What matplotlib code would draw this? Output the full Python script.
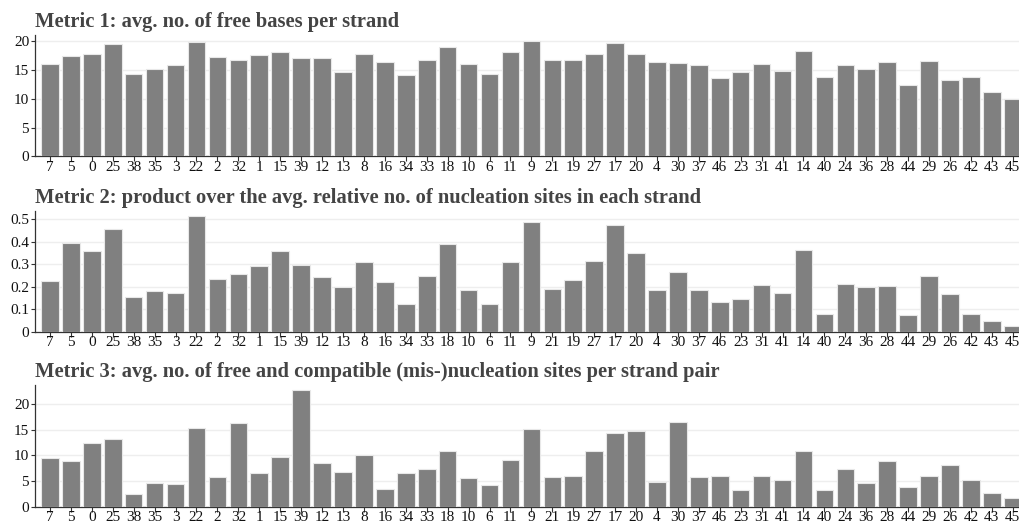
import matplotlib
matplotlib.use("Agg")
import matplotlib.pyplot as plt
from matplotlib.ticker import FixedLocator, FuncFormatter

# Strand IDs in display order
strands = ["7", "5", "0", "25", "38", "35", "3", "22", "2", "32", "1", "15", "39",
           "12", "13", "8", "16", "34", "33", "18", "10", "6", "11", "9", "21", "19",
           "27", "17", "20", "4", "30", "37", "46", "23", "31", "41", "14", "40", "24",
           "36", "28", "44", "29", "26", "42", "43", "45"]

free_bases = [16.0, 17.5, 17.8, 19.6, 14.3, 15.2, 15.8, 19.8, 17.2, 16.8, 17.6, 18.2, 17.1,
              17.1, 14.6, 17.8, 16.4, 14.2, 16.7, 19.0, 16.1, 14.3, 18.2, 20.1, 16.7, 16.8,
              17.8, 19.7, 17.8, 16.4, 16.3, 15.8, 13.7, 14.7, 16.1, 14.9, 18.3, 13.8, 15.8,
              15.2, 16.4, 12.4, 16.5, 13.3, 13.8, 11.1, 9.9]

nucleation_product = [0.223, 0.393, 0.358, 0.454, 0.155, 0.180, 0.170, 0.512, 0.235, 0.257,
                      0.293, 0.357, 0.296, 0.243, 0.198, 0.308, 0.220, 0.123, 0.246, 0.388,
                      0.183, 0.123, 0.309, 0.485, 0.189, 0.229, 0.315, 0.473, 0.348, 0.185,
                      0.263, 0.183, 0.130, 0.143, 0.209, 0.170, 0.362, 0.080, 0.213, 0.197,
                      0.203, 0.075, 0.246, 0.167, 0.080, 0.049, 0.025]

misnucleation_sites = [9.55, 8.9, 12.3, 13.1, 2.4, 4.5, 4.4, 15.4, 5.7, 16.2, 6.6, 9.7, 22.7,
                       8.4, 6.75, 10.0, 3.5, 6.6, 7.3, 10.8, 5.6, 4.1, 9.0, 15.1, 5.7, 5.9,
                       10.8, 14.35, 14.7, 4.7, 16.5, 5.8, 6.0, 3.2, 6.0, 5.2, 10.9, 3.3, 7.3,
                       4.6, 8.8, 3.8, 5.9, 8.0, 5.1, 2.6, 1.75]

titles = ["Metric 1: avg. no. of free bases per strand",
          "Metric 2: product over the avg. relative no. of nucleation sites in each strand",
          "Metric 3: avg. no. of free and compatible (mis-)nucleation sites per strand pair"]

y_ticks = [[0, 5, 10, 15, 20],
           [0, 0.1, 0.2, 0.3, 0.4, 0.5],
           [0, 5, 10, 15, 20]]
y_tops = [21.1, 0.534, 23.7]

W, H = 1019, 528
plt.rcParams["font.family"] = ["Liberation Serif", "DejaVu Serif"]

fig = plt.figure(figsize=(W / 100, H / 100), dpi=100)
fig.patch.set_facecolor("white")

# panel geometry in pixels: (spine top, axis bottom, title baseline)
panels = [(35.0, 156.3, 26.5), (211.3, 331.7, 202.5), (385.0, 506.5, 376.5)]
left_px = 34.7
x0 = -0.73
step_px = 20.93
x1 = x0 + (W - left_px) / step_px

series = [free_bases, nucleation_product, misnucleation_sites]

def fmt_tick(v, _):
    return "0" if v == 0 else f"{v:g}"

for (top, bot, base), vals, title, yt, ytop in zip(panels, series, titles, y_ticks, y_tops):
    ax = fig.add_axes([left_px / W, 1 - bot / H, (W - left_px) / W, (bot - top) / H])
    xs = range(len(strands))
    ax.bar(xs, vals, width=0.84, color="#808080", edgecolor="#e8e8e8",
           linewidth=0.8, zorder=3)
    ax.set_xlim(x0, x1)
    ax.set_ylim(0, ytop)
    ax.set_xticks(list(xs))
    ax.set_xticklabels(strands)
    ax.yaxis.set_major_locator(FixedLocator(yt))
    ax.yaxis.set_major_formatter(FuncFormatter(fmt_tick))
    ax.grid(axis="y", color="#eeeeee", linewidth=1.0, zorder=0)
    ax.set_axisbelow(True)
    for s in ("top", "right"):
        ax.spines[s].set_visible(False)
    for s in ("left", "bottom"):
        ax.spines[s].set_color("#333333")
        ax.spines[s].set_linewidth(0.9)
    ax.tick_params(axis="x", direction="out", length=3.4, width=0.8,
                   color="#333333", labelsize=11, labelcolor="#111111", pad=0)
    ax.tick_params(axis="y", direction="out", length=3.0, width=0.8,
                   color="#333333", labelsize=11, labelcolor="#111111", pad=1)
    fig.text(left_px / W, 1 - base / H, title, fontsize=14.8, fontweight="bold",
             color="#444444", ha="left", va="baseline")

fig.savefig("out.png", dpi=100)
